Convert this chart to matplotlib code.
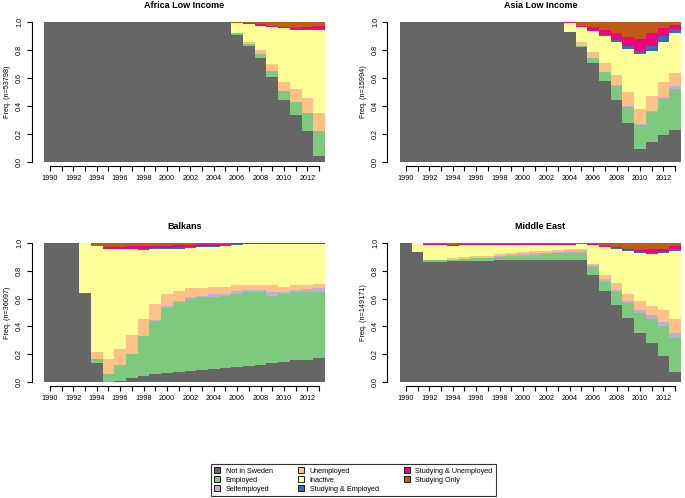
import numpy as np
import matplotlib
matplotlib.use("Agg")
import matplotlib.pyplot as plt
from matplotlib.patches import Patch

plt.rcParams['font.family'] = ['Liberation Sans', 'DejaVu Sans']

years = list(range(1990, 2014))
states = ["Not in Sweden", "Employed", "Selfemployed", "Unemployed", "Inactive",
          "Studying & Employed", "Studying & Unemployed", "Studying Only"]
colors = ["#666666", "#7FC97F", "#BEAED4", "#FDC086", "#FFFF99",
          "#386CB0", "#F0027F", "#BF5B17"]

# ---- Africa Low Income (n=53798) ----
africa_not_in_sweden = [1]*16 + [.91, .83, .745, .61, .445, .335, .22, .045]
africa_employed      = [0]*16 + [.01, .01, .025, .04, .06, .095, .13, .175]
africa_selfemployed  = [0]*16 + [0, 0, 0, 0, 0, 0, 0, 0]
africa_unemployed    = [0]*16 + [0, .02, .03, .05, .065, .09, .105, .13]
africa_inactive      = [0]*16 + [.07, .125, .175, .265, .385, .425, .49, .595]
africa_stud_emp      = [0]*16 + [0, 0, 0, 0, 0, .003, .005, .005]
africa_stud_unemp    = [0]*16 + [.003, .005, .01, .01, .01, .012, .015, .02]
africa_stud_only     = [0]*16 + [.007, .01, .015, .025, .035, .04, .035, .03]

# ---- Asia Low Income (n=15994) ----
asia_not_in_sweden = [1]*14 + [.93, .82, .71, .58, .445, .28, .09, .14, .19, .23]
asia_employed      = [0]*14 + [0, .01, .03, .065, .10, .115, .175, .215, .26, .29]
asia_selfemployed  = [0]*14 + [0, 0, 0, 0, .005, .005, .005, .01, .015, .025]
asia_unemployed    = [0]*14 + [0, .03, .045, .06, .07, .10, .11, .11, .105, .09]
asia_inactive      = [0]*14 + [.065, .105, .15, .195, .235, .31, .39, .315, .285, .285]
asia_stud_emp      = [0]*14 + [0, 0, 0, .005, .015, .02, .025, .04, .045, .03]
asia_stud_unemp    = [0]*14 + [.002, .01, .03, .04, .055, .065, .085, .09, .055, .03]
asia_stud_only     = [0]*14 + [.003, .025, .035, .055, .075, .105, .12, .08, .045, .02]

# ---- Balkans (n=36097) ----
balkans_not_in_sweden = [1, 1, 1, .64, .14, 0, .01, .03, .045, .055, .065, .07,
                         .08, .085, .09, .10, .11, .115, .125, .135, .145, .155, .16, .175]
balkans_employed      = [0, 0, 0, 0, .025, .06, .11, .175, .285, .385, .47, .505,
                         .515, .525, .525, .52, .525, .53, .525, .485, .485, .49, .49, .475]
balkans_selfemployed  = [0, 0, 0, 0, 0, 0, 0, 0, .003, .005, .01, .01,
                         .015, .01, .015, .015, .02, .02, .015, .025, .02, .02, .02, .025]
balkans_unemployed    = [0, 0, 0, 0, .05, .105, .12, .13, .122, .115, .085, .07,
                         .065, .058, .05, .045, .04, .035, .035, .05, .035, .03, .03, .03]
balkans_inactive      = [0, 0, 0, .36, .765, .795, .715, .62, .495, .40, .33, .305,
                         .29, .29, .292, .30, .29, .29, .29, .295, .305, .295, .29, .285]
balkans_stud_emp      = [0, 0, 0, 0, 0, 0, .002, .003, .005, .005, .005, .01,
                         .007, .007, .006, .005, .005, .004, .003, .003, .003, .003, .003, .003]
balkans_stud_unemp    = [0, 0, 0, 0, 0, .01, .013, .017, .02, .015, .015, .015,
                         .016, .015, .012, .01, .007, .004, .005, .005, .005, .005, .005, .005]
balkans_stud_only     = [0, 0, 0, 0, .02, .03, .03, .025, .025, .02, .02, .015,
                         .012, .01, .01, .005, .003, .002, .002, .002, .002, .002, .002, .002]

# ---- Middle East (n=149171) ----
mideast_not_in_sweden = [1, .935, .865, .865, .87, .87, .87, .872, .875, .875, .875, .875,
                         .878, .88, .88, .88, .77, .655, .555, .46, .355, .28, .19, .07]
mideast_employed      = [0, 0, .01, .01, .01, .015, .02, .023, .025, .03, .035, .04,
                         .042, .045, .045, .045, .055, .065, .09, .105, .145, .175, .215, .25]
mideast_selfemployed  = [0, 0, 0, 0, 0, 0, 0, 0, .01, .01, .01, .01,
                         .01, .01, .015, .015, .015, .02, .015, .015, .02, .025, .025, .03]
mideast_unemployed    = [0, 0, .005, .005, .01, .015, .015, .015, .01, .01, .015, .015,
                         .015, .015, .015, .015, .01, .03, .05, .055, .06, .07, .09, .105]
mideast_inactive      = [0, .063, .105, .105, .09, .085, .08, .075, .065, .06, .05, .045,
                         .04, .035, .03, .035, .135, .20, .25, .31, .35, .37, .405, .485]
mideast_stud_emp      = [0, 0, 0, 0, 0, 0, 0, 0, .002, .002, .002, .002,
                         .002, .002, .002, .002, .002, .003, .003, .005, .005, .01, .01, .015]
mideast_stud_unemp    = [0, 0, .005, .005, .005, .005, .005, .005, .005, .005, .005, .005,
                         .005, .005, .005, .003, .005, .007, .01, .01, .015, .025, .025, .02]
mideast_stud_only     = [0, .002, .01, .01, .015, .01, .01, .01, .008, .008, .008, .008,
                         .008, .008, .008, .005, .008, .02, .027, .04, .05, .045, .04, .025]

panels = [
    ("Africa Low Income", 53798, [africa_not_in_sweden, africa_employed, africa_selfemployed,
                                  africa_unemployed, africa_inactive, africa_stud_emp,
                                  africa_stud_unemp, africa_stud_only]),
    ("Asia Low Income", 15994, [asia_not_in_sweden, asia_employed, asia_selfemployed,
                                asia_unemployed, asia_inactive, asia_stud_emp,
                                asia_stud_unemp, asia_stud_only]),
    ("Balkans", 36097, [balkans_not_in_sweden, balkans_employed, balkans_selfemployed,
                        balkans_unemployed, balkans_inactive, balkans_stud_emp,
                        balkans_stud_unemp, balkans_stud_only]),
    ("Middle East", 149171, [mideast_not_in_sweden, mideast_employed, mideast_selfemployed,
                             mideast_unemployed, mideast_inactive, mideast_stud_emp,
                             mideast_stud_unemp, mideast_stud_only]),
]

W, H = 685, 498
fig = plt.figure(figsize=(W / 100, H / 100), dpi=100)

# axes boxes in pixel coords (left, top, right, bottom)
boxes = [(44, 22, 325, 162), (400, 22, 681, 162),
         (44, 243, 325, 382), (400, 243, 681, 382)]

x = np.arange(len(years))
for (title, n, series), (l, t, r, b) in zip(panels, boxes):
    ax = fig.add_axes([l / W, 1 - b / H, (r - l) / W, (b - t) / H])
    bottom = np.zeros(len(years))
    for vals, col in zip(series, colors):
        v = np.array(vals, dtype=float)
        ax.bar(x, v, width=1.0, bottom=bottom, color=col, linewidth=0,
               antialiased=False)
        bottom += v
    ax.set_xlim(-0.5, len(years) - 0.5)
    ax.set_ylim(0, 1)
    for s in ("top", "right"):
        ax.spines[s].set_visible(False)
    ax.spines["left"].set_position(("outward", 9))
    ax.spines["bottom"].set_position(("outward", 3))
    ax.spines["left"].set_bounds(0, 1)
    ax.spines["bottom"].set_bounds(0, len(years) - 1)
    ax.spines["left"].set_linewidth(0.8)
    ax.spines["bottom"].set_linewidth(0.8)
    ax.set_xticks(x)
    ax.set_xticklabels([str(y) if i % 2 == 0 else "" for i, y in enumerate(years)],
                       fontsize=5.2)
    ax.set_yticks([0, 0.2, 0.4, 0.6, 0.8, 1.0])
    ax.set_yticklabels(["0.0", "0.2", "0.4", "0.6", "0.8", "1.0"], fontsize=5.2,
                       rotation=90, va="center")
    ax.tick_params(axis="both", length=3.5, width=0.8, pad=2.5)
    ax.set_ylabel(f"Freq. (n={n})", fontsize=5.2, labelpad=4)
    ax.set_title(title, fontsize=6.5, fontweight="bold", pad=10)

handles = [Patch(facecolor=c, edgecolor="black", linewidth=0.6) for c in colors]
leg = fig.legend(handles, states, ncol=3, loc="center",
                 bbox_to_anchor=(353.5 / W, 1 - 480 / H), fontsize=5.2,
                 frameon=True, fancybox=False, edgecolor="black",
                 handlelength=0.8, handleheight=0.8, handletextpad=0.8,
                 columnspacing=3.5, labelspacing=0.25, borderpad=0.5)
leg.get_frame().set_linewidth(0.8)

fig.savefig("out.png", dpi=100)
